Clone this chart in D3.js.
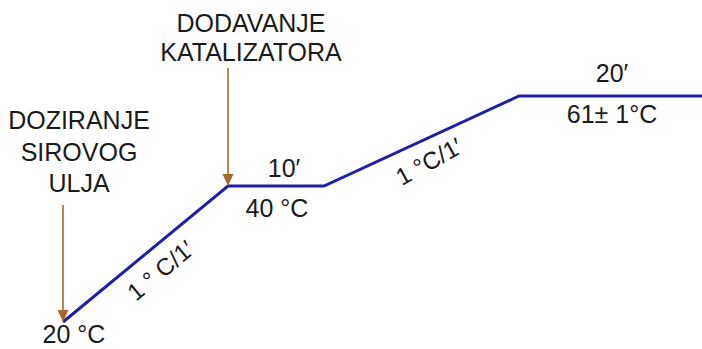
<!DOCTYPE html>
<html>
<head>
<meta charset="UTF-8">
<style>
  body { margin: 0; background: #ffffff; }
  svg { display: block; }
  text { font-family: "Liberation Sans", Arial, sans-serif; fill: #1a1a1a; }
</style>
</head>
<body>
<svg width="702" height="349"></svg>
<script src="https://cdn.jsdelivr.net/npm/d3@7"></script>
<script>
// temperature programme: time (min) and temperature (°C)
const times = [0, 20, 30, 51, 71];
const temps = [20, 40, 40, 61, 61];

// labels on the hold segments
const holdTimes = ["10′", "20′"];
const holdTemps = ["40 °C", "61± 1°C"];
const rampLabels = ["1 ° C/1′", "1 °C/1′"];

// event arrows: at which point, and their text lines
const eventIdx = [0, 1];
const eventLines = [["DOZIRANJE", "SIROVOG", "ULJA"], ["DODAVANJE", "KATALIZATORA"]];

let svg = d3.select("svg");

// schematic (not to scale) piecewise scales
let x = d3.scaleLinear().domain(times).range([63, 228, 324, 519, 705]);
let y = d3.scaleLinear().domain([20, 40, 61]).range([322, 186, 96]);

let pts = times.map((t, i) => [x(t), y(temps[i])]);

svg.append("path")
  .attr("d", d3.line()(pts))
  .attr("fill", "none")
  .attr("stroke", "#1f1fa3")
  .attr("stroke-width", 3)
  .attr("stroke-linejoin", "miter");

// arrows
let arrowCol = "#a8672b";
let arrowLen = [117, 118];
eventIdx.forEach((k, i) => {
  let px = pts[k][0], py = pts[k][1];
  svg.append("line")
    .attr("x1", px).attr("x2", px)
    .attr("y1", py - arrowLen[i]).attr("y2", py - 10)
    .attr("stroke", arrowCol).attr("stroke-width", 1.6);
  svg.append("path")
    .attr("d", `M${px - 5.5},${py - 12} L${px + 5.5},${py - 12} L${px},${py} Z`)
    .attr("fill", arrowCol);
});

// event text
let evAnchor = [[79, 129], [251, 32]];
let evGap = [31.5, 29];
eventLines.forEach((lines, i) => {
  svg.append("text")
    .attr("text-anchor", "middle")
    .attr("font-size", 25)
    .selectAll("tspan")
    .data(lines)
    .enter()
    .append("tspan")
    .attr("x", evAnchor[i][0])
    .attr("y", (d, j) => evAnchor[i][1] + j * evGap[i])
    .text(d => d);
});

// start temperature
svg.append("text")
  .attr("x", pts[0][0] + 11).attr("y", pts[0][1] + 21)
  .attr("text-anchor", "middle").attr("font-size", 25)
  .text(temps[0] + " °C");

// hold labels: time above, temperature below
let aboveOff = [9, 14], belowOff = [31, 27];
[[1, 2], [3, 4]].forEach((seg, i) => {
  let a = pts[seg[0]], b = pts[seg[1]];
  let cx = i == 0 ? (a[0] + b[0]) / 2 + 8 : 612;
  svg.append("text")
    .attr("x", cx).attr("y", a[1] - aboveOff[i])
    .attr("text-anchor", "middle").attr("font-size", 25)
    .text(holdTimes[i]);
  svg.append("text")
    .attr("x", i == 0 ? cx - 7 : cx).attr("y", a[1] + belowOff[i])
    .attr("text-anchor", "middle").attr("font-size", 25)
    .text(holdTemps[i]);
});

// ramp labels, rotated along (roughly) the slope, below the line
let rampCentre = [[166, 277], [433, 169]];
let rampAngle = [-40, -29];
[[0, 1], [2, 3]].forEach((seg, i) => {
  svg.append("text")
    .attr("transform", `translate(${rampCentre[i][0]},${rampCentre[i][1]}) rotate(${rampAngle[i]})`)
    .attr("text-anchor", "middle").attr("font-size", 24)
    .text(rampLabels[i]);
});
</script>
</body>
</html>
